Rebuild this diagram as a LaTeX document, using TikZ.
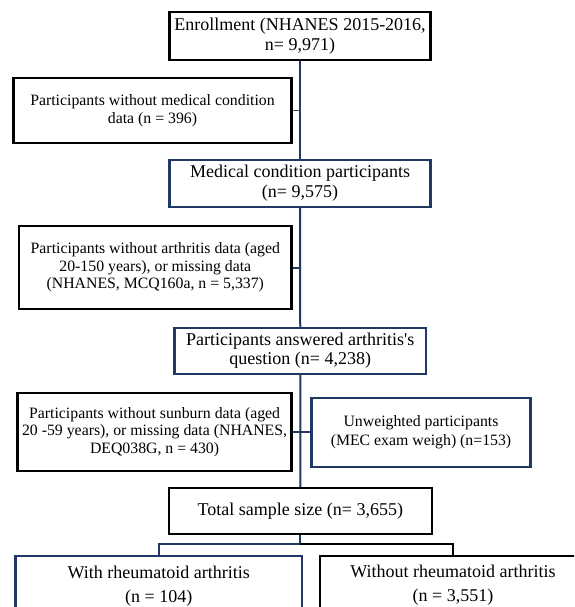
\documentclass[tikz,border=0pt]{standalone}
\usepackage{fontspec}
\setmainfont{Liberation Serif}
\definecolor{navy}{RGB}{31,56,100}
\definecolor{stubgray}{RGB}{80,80,80}
\begin{document}
\begin{tikzpicture}[x=1pt,y=-1pt,
  box/.style={draw=black,line width=2.4pt,align=center,inner sep=0pt,font=\fontsize{18}{20}\selectfont},
  bluebox/.style={box,draw=navy},
  side/.style={font=\fontsize{15.8}{17.5}\selectfont},
  link/.style={draw=navy,line width=2pt},
  blacklink/.style={draw=black,line width=2pt},
  graylink/.style={draw=stubgray,line width=1.4pt}]
\useasboundingbox (0,0) rectangle (574,607);
\clip (0,0) rectangle (574,607);

\node[box,minimum width=261pt,minimum height=48pt] (enr) at (300,36)
  {Enrollment (NHANES 2015-2016,\\ n= 9,971)};
\node[box,side,minimum width=278pt,minimum height=65pt] (b1) at (152.5,110.5)
  {Participants without medical condition\\data (n = 396)};
\node[bluebox,minimum width=261pt,minimum height=47pt] (med) at (300,183.5)
  {Medical condition participants\\(n= 9,575)};
\node[box,side,minimum width=272.6pt,minimum height=83pt] (b3) at (155.3,267.5)
  {Participants without arthritis data (aged\\20-150 years), or missing data\\(NHANES, MCQ160a, n = 5,337)};
\node[bluebox,font=\fontsize{18}{19}\selectfont,minimum width=251.5pt,minimum height=46pt] (art) at (300.25,351)
  {Participants answered arthritis\textquotesingle s\\question (n= 4,238)};
\node[box,side,minimum width=274pt,minimum height=78pt] (b4) at (154.6,432)
  {Participants without sunburn data (aged\\20 -59 years), or missing data (NHANES,\\DEQ038G, n = 430)};
\node[bluebox,side,font=\fontsize{15.8}{18.7}\selectfont,minimum width=218.8pt,minimum height=69pt] (unw) at (421,432.5)
  {Unweighted participants\\(MEC exam weigh) (n=153)};
\node[box,minimum width=262.8pt,minimum height=46pt] (tot) at (300.4,511)
  {Total sample size (n= 3,655)};
\node[bluebox,anchor=north,font=\fontsize{18}{24.5}\selectfont,minimum width=286.8pt,inner ysep=9.8pt] (wra) at (158.8,555)
  {With rheumatoid arthritis\\(n = 104)};
\node[box,anchor=north,font=\fontsize{18}{24.5}\selectfont,minimum width=266pt,inner ysep=8.8pt] (wor) at (453,555)
  {Without rheumatoid arthritis\\(n = 3,551)};

\coordinate (split) at (300.4,544);

\draw[link] (enr.south) -- (med.north);
\draw[link] (med.south) -- (art.north);
\draw[link] (art.south) -- (tot.north);
\draw[graylink] (b1.east) -- (b1.east -| enr.south);
\draw[link] (b3.east) -- (b3.east -| med.south);
\draw[link] (b4.east) -- (unw.west |- b4.east);
\draw[link] (tot.south) -- (split) -- (split -| wra.north) -- (wra.north);
\draw[blacklink] (split) -- (split -| wor.north) -- (wor.north);
\end{tikzpicture}
\end{document}
